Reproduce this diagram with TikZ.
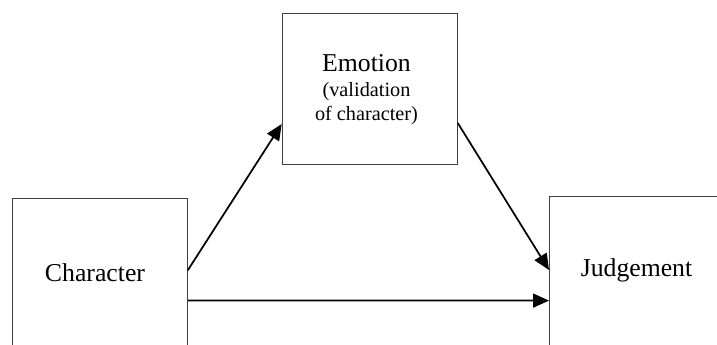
\documentclass[tikz,border=0pt]{standalone}
\usepackage{fontspec}
\setmainfont{Liberation Serif}
\usetikzlibrary{calc,arrows.meta}
\tikzset{
  boxnode/.style={draw=black!75, line width=0.8pt, rectangle, inner sep=0pt},
  bigtext/.style={font=\fontsize{19.3}{23}\selectfont, inner sep=0pt, anchor=base},
  smalltext/.style={font=\fontsize{15.2}{18}\selectfont, inner sep=0pt, anchor=base},
  arr/.style={line width=1.3pt, -{Triangle[length=12pt,width=10.5pt]}}
}
\begin{document}
\begin{tikzpicture}[x=0.75pt,y=-0.75pt]
\useasboundingbox (0,0) rectangle (717,345);
\begin{scope}
\clip (0,0) rectangle (717,345);
\node[boxnode, minimum width=131.25pt, minimum height=113pt, anchor=north west] (emo) at (281.7,13.3) {};
\node[boxnode, minimum width=131.25pt, minimum height=130pt, anchor=north west] (char) at (11.7,198.3) {};
\node[boxnode, minimum width=140pt, minimum height=130pt, anchor=north west] (judge) at (549,196) {};
\end{scope}
\node[bigtext] (chartext) at (95,281.7) {Character};
\node[bigtext] (judgetext) at (636.5,276.7) {Judgement};
\node[bigtext] (emotext) at (366.5,71.7) {Emotion};
\node[smalltext] (val1) at (366.5,96.7) {(validation};
\node[smalltext] (val2) at (366.5,120.7) {of character)};
\draw[arr] ($(char.north east)+(0,72)$) -- ($(emo.south west)+(0,-41)$);
\draw[arr] ($(emo.south east)+(0,-42)$) -- ($(judge.north west)+(0,74)$);
\draw[arr] ($(char.north east)+(0,102.3)$) -- ($(judge.north west)+(0,104.6)$);
\end{tikzpicture}
\end{document}
